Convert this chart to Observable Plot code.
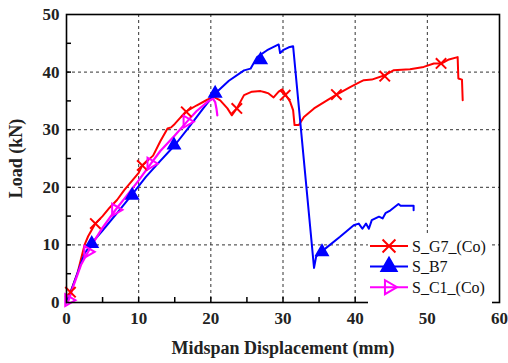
<!DOCTYPE html>
<html>
<head>
<meta charset="utf-8">
<script src="https://cdn.jsdelivr.net/npm/d3@7"></script>
<script src="https://cdn.jsdelivr.net/npm/@observablehq/plot@0.6"></script>
<style>
  body { margin: 0; background: #fff; }
  #chart { position: relative; width: 508px; height: 363px; font-family: "Liberation Serif", "Times New Roman", serif; }
  #legend { position: absolute; left: 368px; top: 234px; background: #fff; }
</style>
</head>
<body>
<div id="chart"></div>
<script>
// Load–displacement curves (mm, kN)
const g7Disp = [0, 0.55, 1.5, 2.5, 3.0, 4.0, 5.0, 6.0, 7.0, 8.0, 10.0, 10.5, 12.0, 13.0, 14.0, 14.5, 15.0, 16.5, 18.0, 19.5, 20.4, 21.3, 22.3, 22.9, 23.6, 24.6, 25.7, 26.9, 27.5, 28.0, 28.7, 29.4, 29.9, 30.5, 31.0, 31.4, 31.6, 32.2, 32.9, 34.3, 36.1, 37.3, 39.3, 40.7, 41.2, 42.3, 44.2, 45.3, 47.6, 49.5, 50.9, 52.0, 53.0, 54.2, 54.3, 54.8, 54.9];
const g7Load = [0, 1.8, 5.0, 10.0, 11.5, 13.7, 15.0, 16.5, 17.8, 19.5, 22.5, 23.8, 25.5, 28.0, 30.2, 30.4, 31.0, 33.1, 34.2, 35.2, 35.7, 35.1, 33.7, 32.5, 33.7, 36.0, 36.6, 36.7, 36.5, 36.3, 35.6, 36.6, 37.0, 35.8, 34.8, 33.4, 30.8, 30.8, 32.2, 33.7, 35.1, 36.0, 37.4, 38.3, 38.6, 38.7, 39.5, 40.3, 40.5, 40.9, 41.5, 41.5, 42.2, 42.6, 38.9, 38.7, 35.1];

const b7Disp = [0, 0.5, 1.2, 2.5, 3.5, 5.0, 7.0, 9.0, 11.0, 13.0, 15.0, 17.0, 19.0, 20.6, 22.5, 24.6, 25.5, 26.4, 27.8, 29.4, 29.6, 30.0, 30.8, 31.4, 34.3, 34.6, 35.4, 35.9, 37.9, 39.8, 40.5, 41.0, 41.5, 41.9, 42.3, 43.3, 43.8, 44.2, 44.9, 46.0, 46.3, 48.1, 48.1];
const b7Load = [0, 1.5, 4.0, 8.5, 10.3, 12.5, 15.5, 18.6, 21.8, 24.6, 27.3, 30.5, 33.8, 36.3, 38.5, 40.3, 40.6, 42.6, 43.8, 44.8, 43.3, 43.8, 44.3, 44.5, 6.0, 8.0, 8.8, 9.4, 11.4, 13.4, 13.7, 12.8, 13.7, 12.8, 14.3, 14.9, 14.6, 15.5, 16.0, 17.1, 16.8, 16.8, 16.0];

const c1Disp = [0, 0.3, 1.0, 2.0, 3.0, 4.0, 5.0, 6.8, 8.0, 10.0, 11.7, 13.0, 15.0, 16.7, 18.0, 19.5, 20.3, 20.6, 20.8, 20.9];
const c1Load = [0, 0.4, 3.0, 6.5, 8.8, 11.0, 13.0, 16.1, 18.0, 21.2, 24.1, 26.3, 29.0, 31.4, 33.2, 34.8, 35.4, 34.8, 33.5, 32.5];

// Marker positions along each curve
const g7MarkDisp = [0.55, 4.0, 10.5, 16.6, 23.6, 30.3, 37.4, 44.1, 51.9];
const g7MarkLoad = [1.8, 13.7, 23.8, 33.1, 33.7, 36.0, 36.1, 39.3, 41.5];
const b7MarkDisp = [3.5, 9.1, 14.9, 20.6, 26.9, 35.4];
const b7MarkLoad = [10.2, 18.6, 27.3, 36.3, 42.1, 8.8];
const c1MarkDisp = [0.3, 2.95, 6.8, 11.7, 16.7];
const c1MarkLoad = [0.4, 8.8, 16.1, 24.1, 31.4];

// Axis ticks
const xTicks = [0, 10, 20, 30, 40, 50, 60];
const yTicks = [0, 10, 20, 30, 40, 50];
const xMinor = [5, 10, 15, 20, 25, 30, 35, 40, 45, 50, 55];
const yMinor = [5, 10, 15, 20, 25, 30, 35, 40, 45];
const xGrid = [10, 20, 30, 40, 50];
const yGrid = [10, 20, 30, 40];

const xTitle = "Midspan Displacement (mm)";
const yTitle = "Load (kN)";
const seriesNames = ["S_G7_(Co)", "S_B7", "S_C1_(Co)"];
const seriesColors = ["#ff0000", "#0000ff", "#ff00ff"];

const zip = (xs, ys) => xs.map((x, i) => ({x, y: ys[i]}));
const g7 = zip(g7Disp, g7Load), b7 = zip(b7Disp, b7Load), c1 = zip(c1Disp, c1Load);
const g7m = zip(g7MarkDisp, g7MarkLoad), b7m = zip(b7MarkDisp, b7MarkLoad), c1m = zip(c1MarkDisp, c1MarkLoad);

const W = 508, H = 363, mL = 66, mT = 14, mR = 9, mB = 61;
const plotW = W - mL - mR, plotH = H - mT - mB;
const tickLen = 5;
const font = "Liberation Serif, Times New Roman, serif";

const chart = Plot.plot({
  width: W, height: H,
  marginLeft: mL, marginTop: mT, marginRight: mR, marginBottom: mB,
  style: {fontFamily: font, background: "#fff", overflow: "visible"},
  x: {domain: [0, 60]},
  y: {domain: [0, 50]},
  marks: [
    Plot.gridX(xGrid, {stroke: "#333", strokeOpacity: 1, strokeWidth: 1, strokeDasharray: "3,3"}),
    Plot.gridY(yGrid, {stroke: "#333", strokeOpacity: 1, strokeWidth: 1, strokeDasharray: "3,3"}),
    Plot.tickX(xMinor, {x: d => d, insetTop: plotH - tickLen, stroke: "#000", strokeWidth: 1.5}),
    Plot.tickY(yMinor, {y: d => d, insetRight: plotW - tickLen, stroke: "#000", strokeWidth: 1.5}),
    Plot.line(g7, {x: "x", y: "y", stroke: seriesColors[0], strokeWidth: 2}),
    Plot.line(b7, {x: "x", y: "y", stroke: seriesColors[1], strokeWidth: 2}),
    Plot.line(c1, {x: "x", y: "y", stroke: seriesColors[2], strokeWidth: 2.2}),
    Plot.dot(g7m, {x: "x", y: "y", symbol: "times", r: 4.8, stroke: seriesColors[0], strokeWidth: 2}),
    Plot.dot(b7m, {x: "x", y: "y", symbol: "triangle", r: 4.6, fill: seriesColors[1], stroke: seriesColors[1]}),
    Plot.dot(c1m, {x: "x", y: "y", symbol: "triangle", rotate: 90, r: 4.4, fill: "none", stroke: seriesColors[2], strokeWidth: 2}),
    Plot.frame({stroke: "#000", strokeWidth: 1.6}),
    Plot.axisX(xTicks, {tickSize: 0, tickPadding: 9, fontSize: 17, fontWeight: "bold", fill: "#222",
      label: xTitle, labelAnchor: "center", labelOffset: 51}),
    Plot.axisY(yTicks, {tickSize: 0, tickPadding: 7, fontSize: 17, fontWeight: "bold", fill: "#222",
      label: yTitle, labelAnchor: "center", labelOffset: 57})
  ]
});
// Axis titles: plain text, no arrow
chart.querySelectorAll("g[aria-label='x-axis label'] text").forEach(t => { t.textContent = xTitle; });
chart.querySelectorAll("g[aria-label='y-axis label'] text").forEach(t => { t.textContent = yTitle; });
chart.querySelectorAll("g[aria-label='x-axis label'] text, g[aria-label='y-axis label'] text").forEach(t => {
  t.setAttribute("font-size", "18");
  t.setAttribute("font-weight", "bold");
  t.setAttribute("fill", "#222");
});
const host = document.getElementById("chart");
host.appendChild(chart);

// Legend: line + symbol + name for each series
const legend = d3.select(host).append("div").attr("id", "legend");
const lsvg = legend.append("svg").attr("width", 124).attr("height", 66);
const symbols = [
  {type: d3.symbolTimes, fill: "none", rotate: 0, size: 110},
  {type: d3.symbolTriangle, fill: seriesColors[1], rotate: 0, size: 100},
  {type: d3.symbolTriangle, fill: "none", rotate: 90, size: 85}
];
seriesNames.forEach((name, i) => {
  const cy = 12 + i * 20.6;
  const g = lsvg.append("g");
  g.append("line").attr("x1", 2).attr("x2", 40).attr("y1", cy).attr("y2", cy)
    .attr("stroke", seriesColors[i]).attr("stroke-width", 2);
  g.append("path").attr("d", d3.symbol(symbols[i].type, symbols[i].size)())
    .attr("transform", `translate(21,${cy}) rotate(${symbols[i].rotate})`)
    .attr("fill", symbols[i].fill).attr("stroke", seriesColors[i]).attr("stroke-width", 2);
  g.append("text").attr("x", 44).attr("y", cy).attr("dy", "0.35em")
    .attr("font-family", font).attr("font-size", 16).attr("fill", "#111").text(name);
});
</script>
</body>
</html>
